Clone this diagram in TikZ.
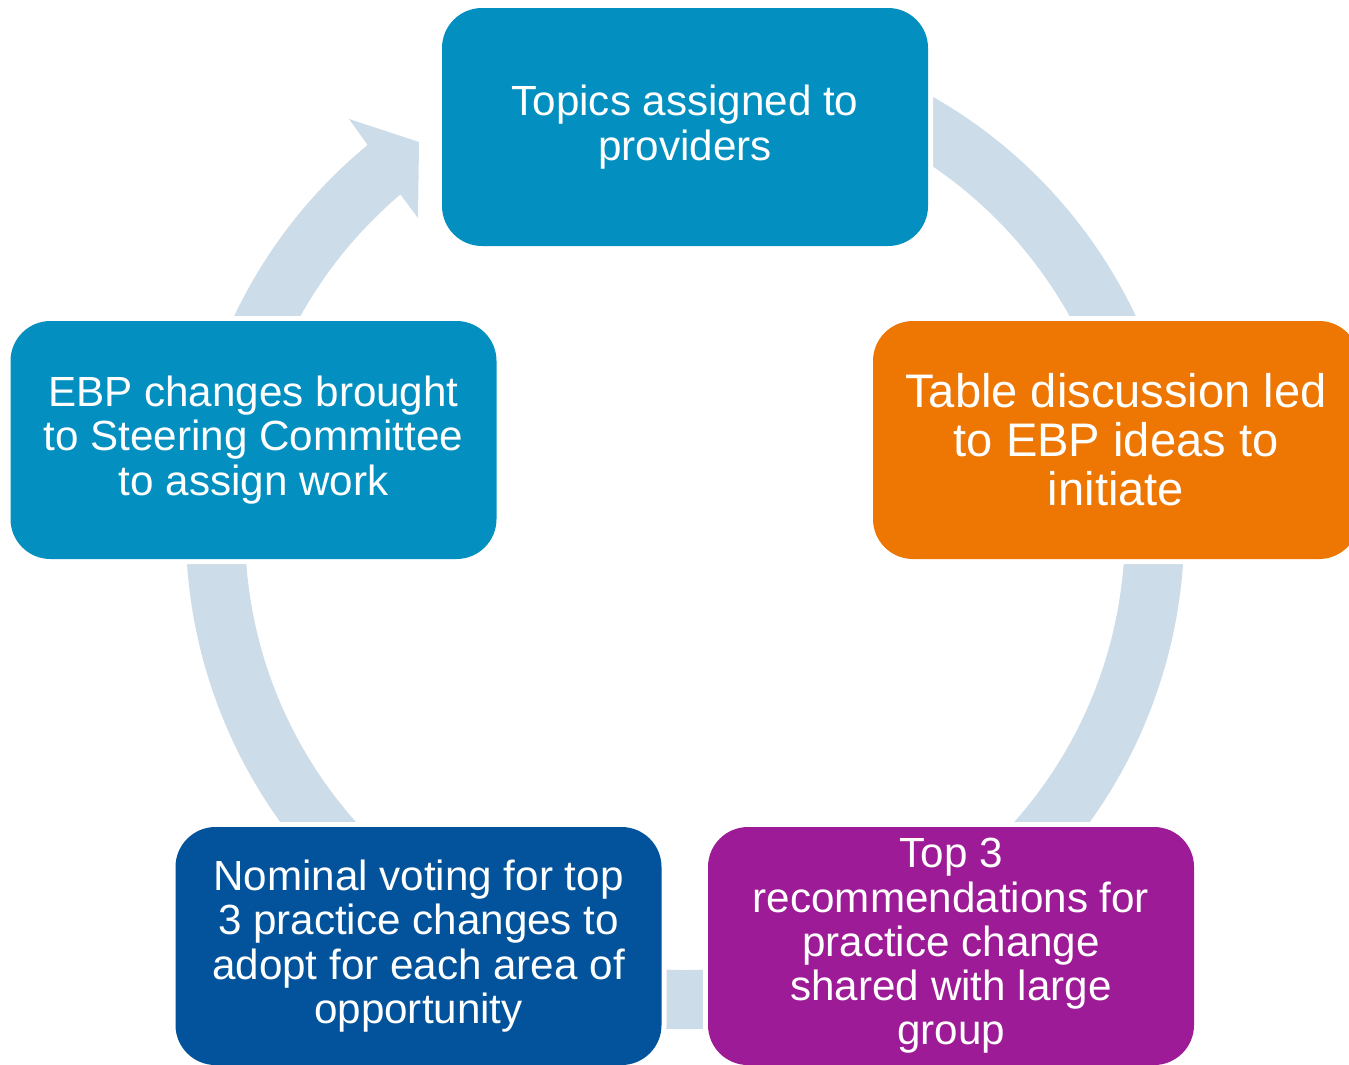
\documentclass[tikz,border=0pt]{standalone}
\usepackage{fontspec}
\setmainfont{Liberation Sans}
\usetikzlibrary{calc}
\definecolor{cyclebg}{RGB}{204,220,232}
\definecolor{stepblue}{RGB}{3,144,192}
\definecolor{steporange}{RGB}{238,118,2}
\definecolor{steppurple}{RGB}{157,27,150}
\definecolor{stepnavy}{RGB}{2,83,155}

\begin{document}
\begin{tikzpicture}[
  stepbox/.style={rounded corners=0.4cm, minimum width=4.86cm, minimum height=2.38cm,
    inner sep=0pt, text=white, align=center,
    preaction={draw=white, line width=0.1cm},
    font=\fontsize{12}{12.6}\selectfont},
  bigtext/.style={font=\fontsize{13.4}{13.9}\selectfont}
]
\useasboundingbox (0,0) rectangle (13.49,10.64);
\clip (0,0) rectangle (13.49,10.64);

% ring with arrow head at the top left
\coordinate (c) at (6.85,5.34);
\fill [cyclebg] (3.49,9.45) -- (4.19,9.22) -- (4.18,8.46)
  -- ($(c)+(130.3:4.40)$) arc [start angle=130.3, end angle=430, radius=4.40]
  -- ($(c)+(430:4.99)$) arc [start angle=430, end angle=129.5, radius=4.99]
  -- cycle;

\node [stepbox, fill=stepblue] (topics) at (6.85,9.37) {Topics assigned to\\providers};
\node [stepbox, bigtext, fill=steporange] (table) at (11.16,6.24) {Table discussion led\\to EBP ideas to\\initiate};
\node [stepbox, fill=steppurple] (top3) at (9.51,1.18) {Top 3\\recommendations for\\practice change\\shared with large\\group};
\node [stepbox, fill=stepnavy] (voting) at (4.185,1.18) {Nominal voting for top\\3 practice changes to\\adopt for each area of\\opportunity};
\node [stepbox, fill=stepblue] (ebp) at (2.535,6.24) {EBP changes brought\\to Steering Committee\\to assign work};
\end{tikzpicture}
\end{document}
